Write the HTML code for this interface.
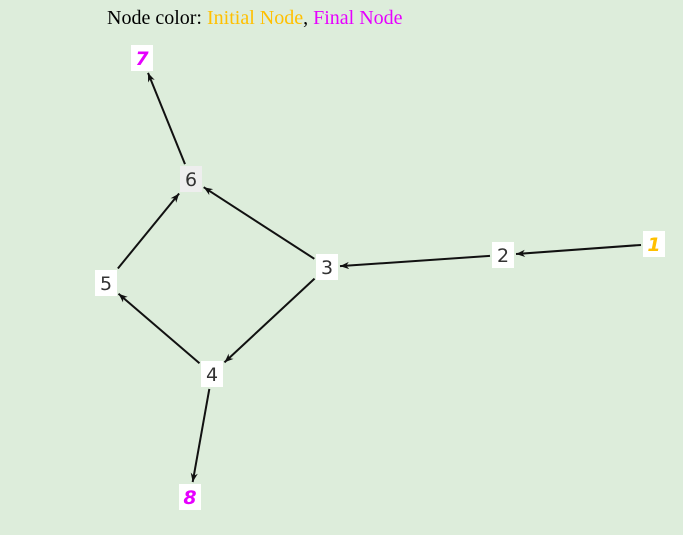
<!DOCTYPE html>
<html><head><meta charset="utf-8"><style>
html,body{margin:0;padding:0;background:#ddeddb;}
body{width:683px;height:535px;overflow:hidden;position:relative;font-family:"Liberation Serif",serif;}
#title{position:absolute;left:107px;top:6px;font-size:20px;color:#000;line-height:24px;}
svg{position:absolute;left:0;top:0;}
</style></head><body>
<div id="title">Node color: <span style="color:#ffc000">Initial Node</span>, <span style="color:#e600ff">Final Node</span></div>
<svg id="g" width="683" height="535">
<defs><marker id="ar" viewBox="0 0 10 10" refX="10" refY="5" markerWidth="10" markerHeight="9" markerUnits="userSpaceOnUse" orient="auto"><path d="M0,1 L10,5 L0,9 L3,5 Z" fill="#111"/></marker></defs>
</svg>
<script>
const nodeIds=["1","2","3","4","5","6","7","8"];
const nodeX=[654,503,327,212,106,191,142,190];
const nodeY=[244,255,267,374,283,179,58,497];
const nodeKind=["initial","normal","normal","normal","normal","normal","final","final"];
const edgeFrom=["1","2","3","3","4","5","6","4"];
const edgeTo=["2","3","6","4","5","6","7","8"];
const svg=document.getElementById('g');
const NS="http://www.w3.org/2000/svg";
const idx=id=>nodeIds.indexOf(id);
const hw=11,hh=13;
function clip(dx,dy){const tx=dx?hw/Math.abs(dx):1e9,ty=dy?hh/Math.abs(dy):1e9;return Math.min(tx,ty);}
edgeFrom.forEach((f,i)=>{
  const a=idx(f),b=idx(edgeTo[i]);
  const x1=nodeX[a],y1=nodeY[a],x2=nodeX[b],y2=nodeY[b];
  const dx=x2-x1,dy=y2-y1,L=Math.hypot(dx,dy);
  const ux=dx/L,uy=dy/L;
  const s=clip(ux,uy)+2, e=clip(ux,uy)+2;
  const l=document.createElementNS(NS,'line');
  l.setAttribute('x1',x1+ux*s);l.setAttribute('y1',y1+uy*s);
  l.setAttribute('x2',x2-ux*e);l.setAttribute('y2',y2-uy*e);
  l.setAttribute('stroke','#111');l.setAttribute('stroke-width','2');
  l.setAttribute('marker-end','url(#ar)');
  
  
  svg.appendChild(l);
});
nodeIds.forEach((id,i)=>{
  const g=document.createElementNS(NS,'g');
  
  
  const r=document.createElementNS(NS,'rect');
  r.setAttribute('x',nodeX[i]-hw);r.setAttribute('y',nodeY[i]-hh);
  r.setAttribute('width',hw*2);r.setAttribute('height',hh*2);
  r.setAttribute('fill',id==="6"?'#eeeeee':'#ffffff');
  g.appendChild(r);
  const t=document.createElementNS(NS,'text');
  t.setAttribute('x',nodeX[i]);t.setAttribute('y',nodeY[i]+7);
  t.setAttribute('text-anchor','middle');
  t.setAttribute('font-family','"DejaVu Sans", sans-serif');
  t.setAttribute('font-size','19');
  const k=nodeKind[i];
  if(k==='normal'){t.setAttribute('fill','#333');}
  else{t.setAttribute('fill',k==='initial'?'#ffc000':'#e600ff');t.setAttribute('font-weight','bold');t.setAttribute('font-style','italic');}
  t.textContent=id;
  g.appendChild(t);
  svg.appendChild(g);
});
</script>
</body></html>
